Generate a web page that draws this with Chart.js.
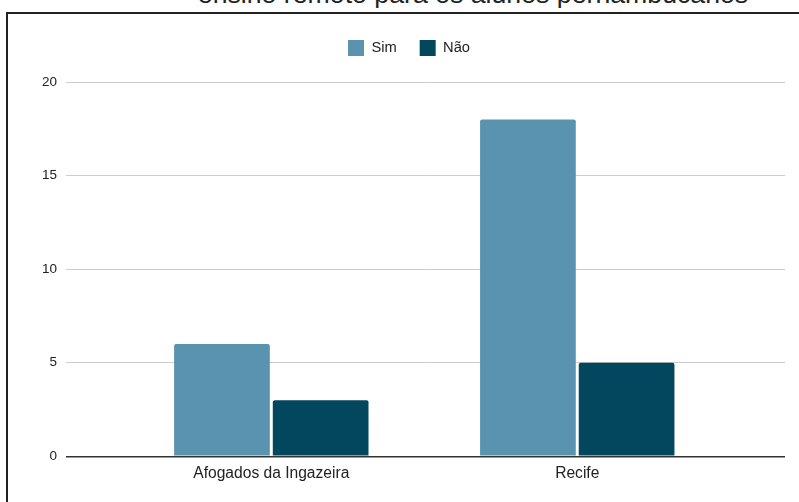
<!DOCTYPE html>
<html lang="pt">
<head>
<meta charset="utf-8">
<title>Ensino remoto</title>
<script src="https://cdn.jsdelivr.net/npm/chart.js@4.4.1/dist/chart.umd.min.js"></script>
<style>
  html, body { margin: 0; padding: 0; background: #fff; overflow: hidden; }
  body { width: 799px; height: 502px; position: relative; font-family: "Liberation Sans", Arial, sans-serif; }
  .titulo {
    position: absolute; left: 473px; top: -19px; transform: translateX(-50%);
    white-space: nowrap; font-size: 26.7px; line-height: 26px; color: #222;
  }
  .moldura {
    position: absolute; left: 6px; top: 12px; width: 820px; height: 520px;
    border-left: 2px solid #222; border-top: 2px solid #222;
  }
  .grafico { position: absolute; left: 8px; top: 14px; width: 798px; height: 488px; }
</style>
</head>
<body>
<div class="titulo">ensino remoto para os alunos pernambucanos</div>
<div class="moldura"></div>
<div class="grafico"><canvas id="chart"></canvas></div>
<script>
// municípios e respostas
const categorias = ['Afogados da Ingazeira', 'Recife'];
const sim = [6, 18];
const nao = [3, 5];
const yTicks = [0, 5, 10, 15, 20];

// espaço extra abaixo da legenda
const legendGap = {
  id: 'legendGap',
  beforeInit(chart) {
    const fit = chart.legend.fit;
    chart.legend.fit = function() {
      fit.bind(chart.legend)();
      this.height += 16;
    };
  }
};

const toPoints = arr => arr.map((v, i) => ({ x: i, y: v }));

new Chart(document.getElementById('chart'), {
  type: 'bar',
  data: {
    datasets: [
      { label: 'Sim', data: toPoints(sim), backgroundColor: '#5a93b0' },
      { label: 'Não', data: toPoints(nao), backgroundColor: '#03475f' }
    ]
  },
  options: {
    responsive: true,
    maintainAspectRatio: false,
    animation: false,
    categoryPercentage: 0.645,
    barPercentage: 0.97,
    borderRadius: { topLeft: 2, topRight: 2 },
    borderSkipped: 'bottom',
    layout: { padding: { top: 3, left: 25, right: 21, bottom: 11 } },
    plugins: {
      legend: {
        labels: {
          boxWidth: 16, boxHeight: 16, padding: 23,
          color: '#222',
          font: { family: '"Liberation Sans", Arial', size: 14.7 }
        }
      },
      tooltip: { enabled: false }
    },
    scales: {
      x: {
        type: 'linear',
        offset: false,
        min: -0.671,
        max: 1.679,
        grid: { display: false, drawTicks: false },
        border: { display: false },
        afterBuildTicks: s => { s.ticks = categorias.map((_, i) => ({ value: i })); },
        ticks: {
          padding: 8,
          color: '#222',
          font: { family: '"Liberation Sans", Arial', size: 15.6 },
          callback: v => categorias[v]
        }
      },
      y: {
        min: 0,
        max: 20,
        afterBuildTicks: s => { s.ticks = yTicks.map(v => ({ value: v })); },
        border: { display: false },
        grid: {
          drawTicks: false,
          color: c => (c.tick && c.tick.value === 0 ? '#333' : '#ccc'),
          lineWidth: c => (c.tick && c.tick.value === 0 ? 1.5 : 1)
        },
        ticks: {
          padding: 9,
          color: '#222',
          font: { family: '"Liberation Sans", Arial', size: 13.5 }
        }
      }
    }
  },
  plugins: [legendGap]
});
</script>
</body>
</html>
